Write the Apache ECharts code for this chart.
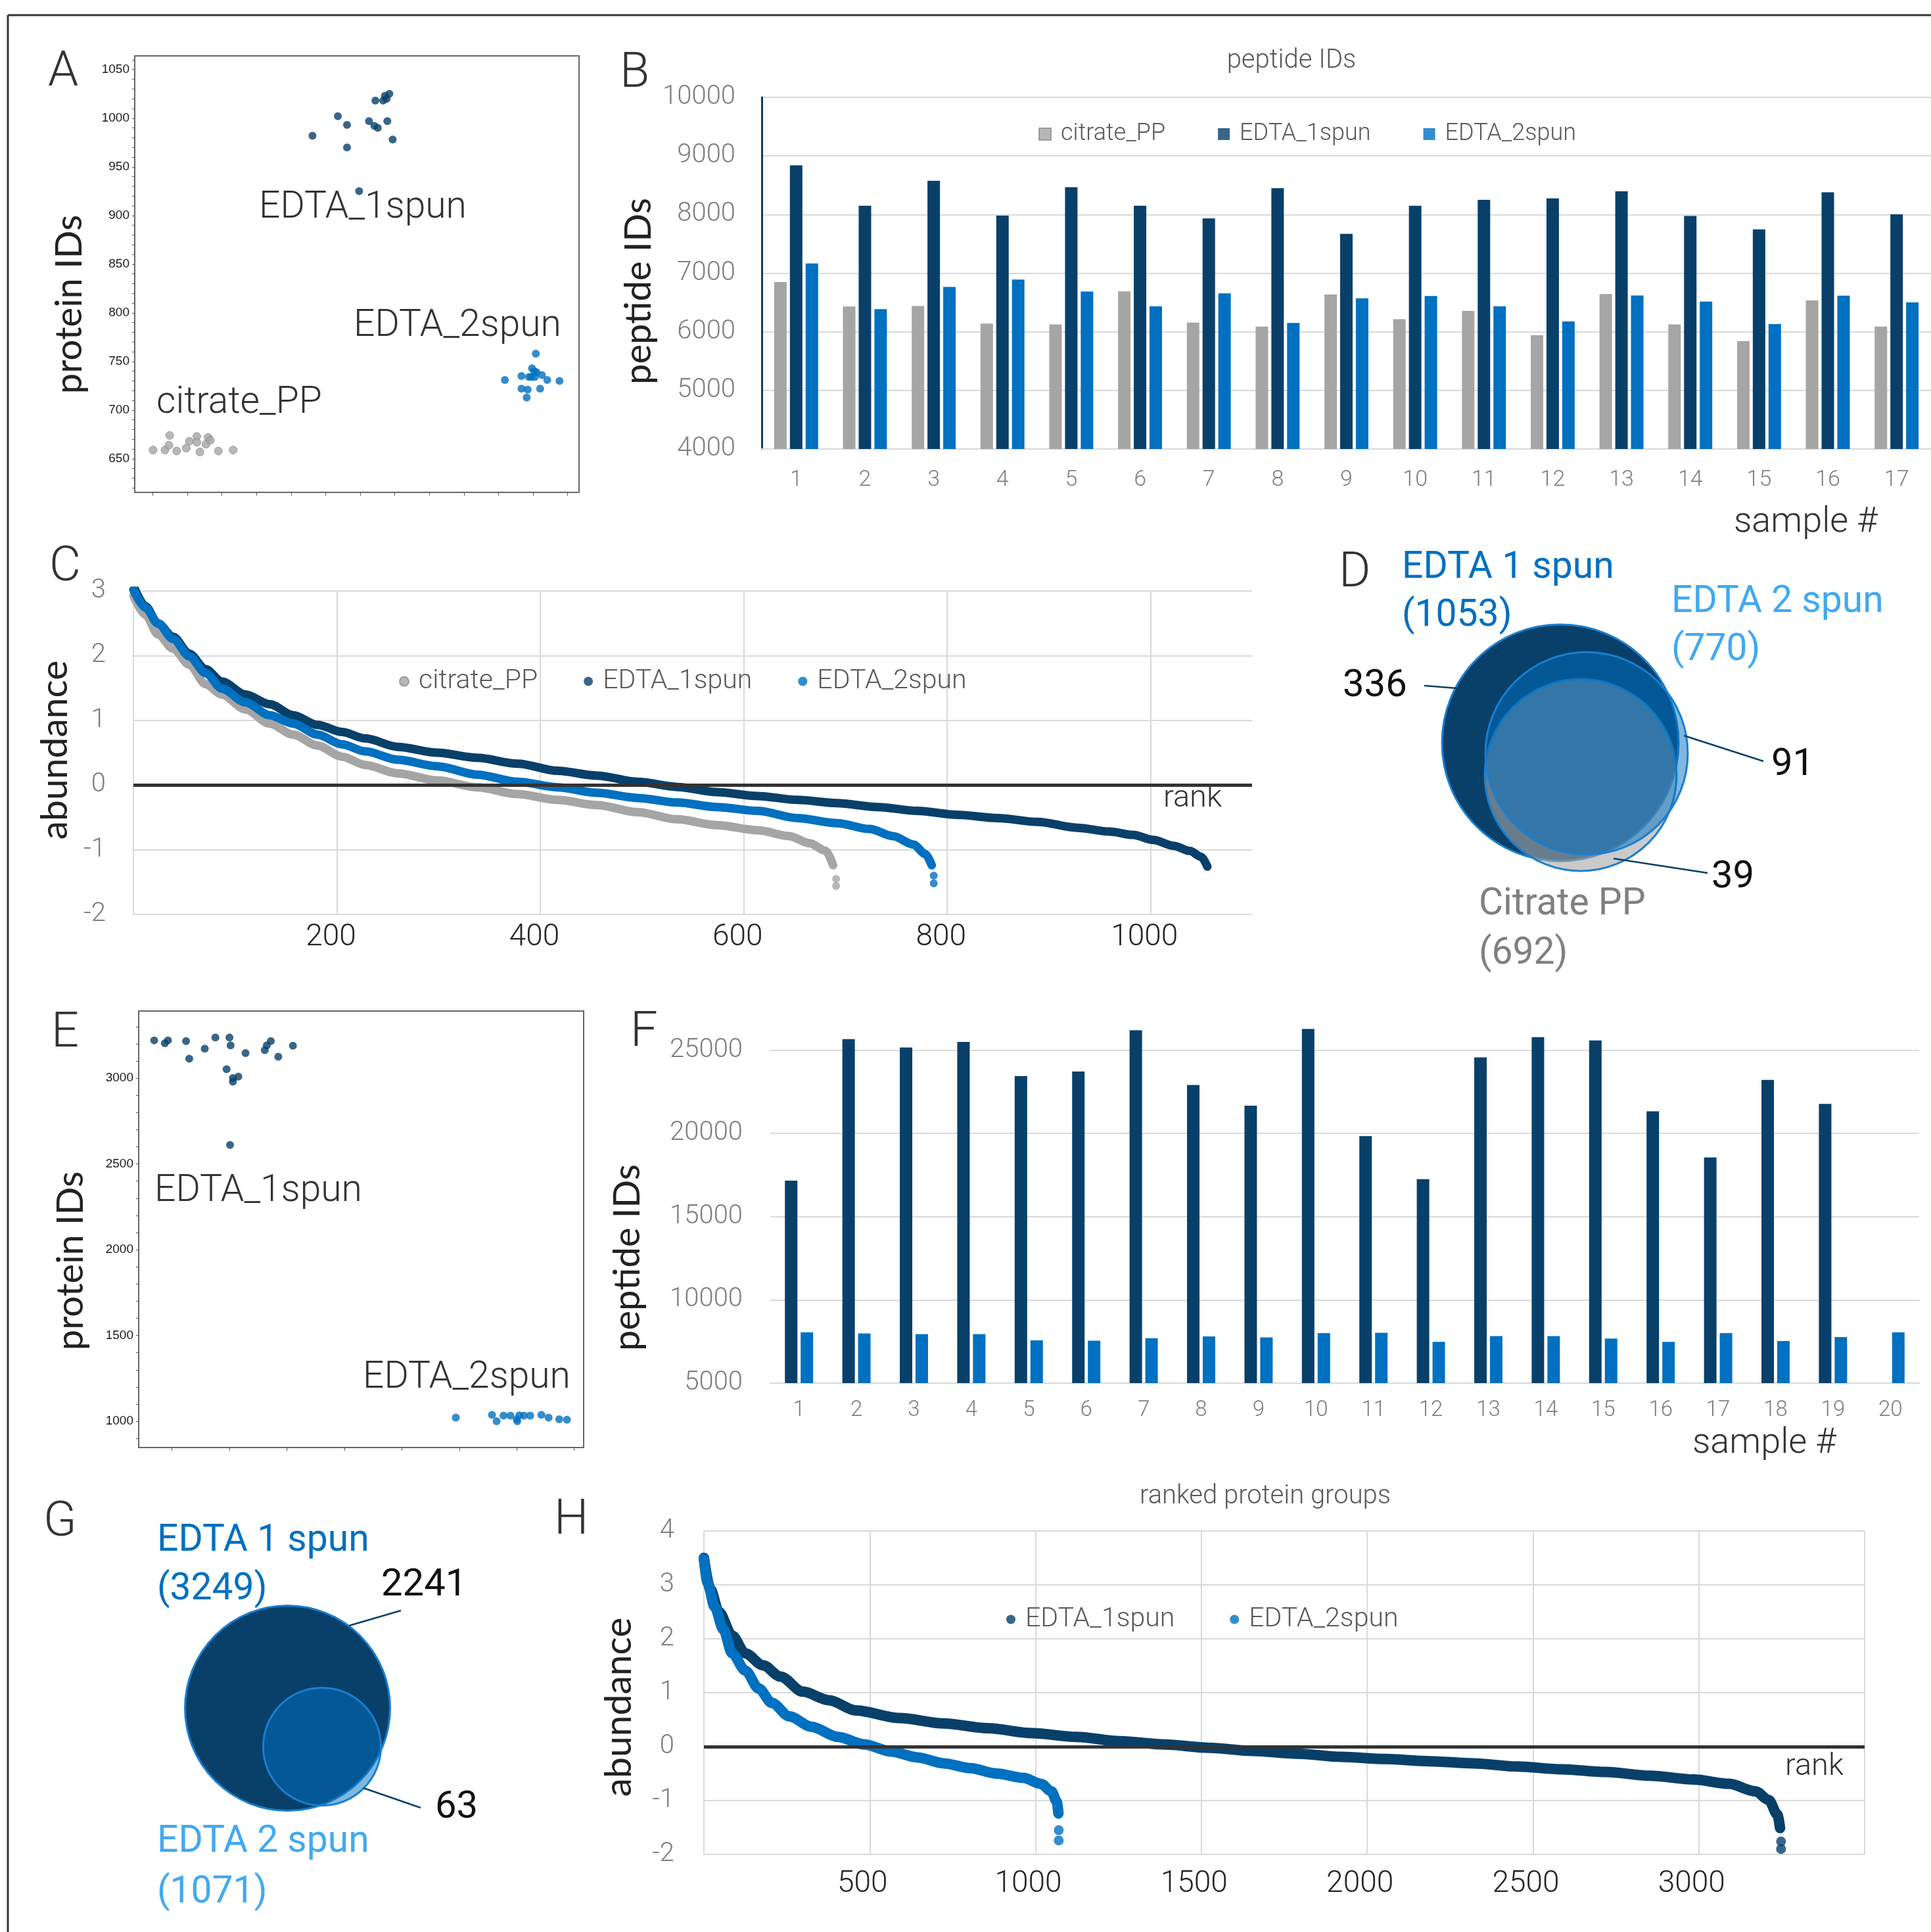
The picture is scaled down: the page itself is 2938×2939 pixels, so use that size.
<!DOCTYPE html>
<html>
<head>
<meta charset="utf-8">
<script src="https://cdn.jsdelivr.net/npm/echarts@6/dist/echarts.min.js"></script>
<style>
html,body{margin:0;padding:0;background:#fff;}
#main{width:2938px;height:2939px;}
</style>
</head>
<body>
<div id="main"></div>
<script>
// colours
var navy = '#08406a', blue = '#0070c0', grey = '#a5a5a5', skyBlue = '#42a9f0';
var gridGrey = '#d9d9d9', tickGrey = '#7f7f7f';

// ---- A: protein IDs, first cohort (jitter = offset from group centre) ----
var citrateA = [659, 674, 659, 664, 658, 661, 668, 673, 667, 657, 665, 672, 669, 658, 659];
var citrateJitA = [-0.198, -0.102, -0.129, -0.106, -0.061, -0.006, 0.012, 0.055, 0.055, 0.073, 0.108, 0.120, 0.133, 0.180, 0.265];
var edta1A = [982, 1002, 993, 970, 925, 997, 992, 990, 1018, 1018, 1023, 1020, 1025, 997, 978];
var edta1JitA = [-0.276, -0.129, -0.076, -0.076, -0.006, 0.051, 0.082, 0.102, 0.088, 0.133, 0.143, 0.153, 0.169, 0.157, 0.188];
var edta2A = [731, 735, 722, 713, 721, 734, 743, 734, 734, 740, 758, 739, 722, 736, 731, 730];
var edta2JitA = [-0.163, -0.067, -0.067, -0.037, -0.031, -0.024, -0.006, -0.010, 0.010, 0.006, 0.016, 0.020, 0.041, 0.051, 0.082, 0.153];
var yLabelsA = [650, 700, 750, 800, 850, 900, 950, 1000, 1050];

// ---- B: peptide IDs per sample ----
var samplesB = ['1','2','3','4','5','6','7','8','9','10','11','12','13','14','15','16','17'];
var citrateB = [6850, 6430, 6440, 6140, 6125, 6690, 6155, 6090, 6635, 6215, 6355, 5940, 6645, 6125, 5840, 6535, 6090];
var edta1B = [8840, 8150, 8575, 7980, 8465, 8150, 7935, 8450, 7670, 8150, 8250, 8275, 8395, 7975, 7745, 8380, 8005];
var edta2B = [7165, 6385, 6765, 6890, 6685, 6435, 6655, 6150, 6570, 6610, 6435, 6175, 6620, 6515, 6130, 6615, 6500];

// ---- C: ranked protein abundance ----
var rankC_cit = [0, 12, 24, 39, 55, 71, 87, 110, 134, 157, 181, 205, 228, 260, 299, 338, 378, 417, 456, 496, 535, 574, 614, 645, 665, 681, 688];
var abC_cit = [2.93, 2.63, 2.33, 2.11, 1.86, 1.56, 1.40, 1.17, 0.95, 0.78, 0.61, 0.44, 0.31, 0.18, 0.07, -0.035, -0.14, -0.23, -0.31, -0.42, -0.53, -0.62, -0.70, -0.79, -0.90, -1.02, -1.24];
var rankC_e1 = [1, 12, 24, 39, 55, 71, 87, 110, 134, 157, 181, 205, 228, 260, 299, 338, 378, 417, 456, 496, 535, 574, 614, 653, 692, 732, 771, 810, 850, 889, 928, 960, 983, 1003, 1023, 1039, 1050, 1056];
var abC_e1 = [3.04, 2.76, 2.50, 2.29, 2.03, 1.79, 1.60, 1.40, 1.25, 1.08, 0.93, 0.82, 0.72, 0.59, 0.50, 0.42, 0.33, 0.22, 0.145, 0.05, -0.03, -0.11, -0.17, -0.23, -0.28, -0.34, -0.40, -0.46, -0.51, -0.57, -0.66, -0.72, -0.77, -0.85, -0.94, -1.02, -1.11, -1.26];
var rankC_e2 = [0, 12, 24, 39, 55, 71, 87, 110, 134, 157, 181, 205, 228, 260, 299, 338, 378, 417, 456, 496, 535, 574, 614, 653, 692, 724, 747, 767, 779, 785];
var abC_e2 = [3.02, 2.74, 2.50, 2.26, 1.99, 1.73, 1.49, 1.28, 1.08, 0.95, 0.78, 0.63, 0.52, 0.39, 0.29, 0.16, 0.05, -0.035, -0.12, -0.20, -0.27, -0.34, -0.40, -0.51, -0.59, -0.68, -0.79, -0.92, -1.07, -1.24];
var tailC_cit = [[691, -1.45], [691, -1.56]];
var tailC_e2 = [[787, -1.40], [787, -1.52]];
var xLabelsC = [200, 400, 600, 800, 1000];

// ---- D: overlap, first cohort ----
var vennD = [1053, 770, 692];   // EDTA 1 spun, EDTA 2 spun, Citrate PP
var uniqueD = [336, 91, 39];

// ---- E: protein IDs, second cohort ----
var edta1E = [3220, 3203, 3220, 3216, 3113, 3172, 3237, 3237, 3191, 3052, 3000, 2979, 3009, 3146, 3163, 3191, 3216, 3125, 3189, 2610];
var edta1JitE = [-0.262, -0.225, -0.214, -0.151, -0.140, -0.086, -0.049, 0.000, 0.004, -0.010, 0.012, 0.012, 0.031, 0.056, 0.123, 0.130, 0.144, 0.170, 0.221, 0.002];
var edta2E = [1021, 1038, 1000, 1033, 1033, 1012, 1000, 1035, 1033, 1033, 1038, 1021, 1012, 1009];
var edta2JitE = [-0.212, -0.086, -0.070, -0.046, -0.022, 0.000, 0.002, 0.009, 0.025, 0.047, 0.086, 0.111, 0.148, 0.175];
var yLabelsE = [1000, 1500, 2000, 2500, 3000];

// ---- F: peptide IDs, second cohort ----
var samplesF = ['1','2','3','4','5','6','7','8','9','10','11','12','13','14','15','16','17','18','19','20'];
var edta1F = [17170, 25670, 25160, 25500, 23450, 23720, 26200, 22910, 21670, 26280, 19840, 17250, 24570, 25790, 25590, 21330, 18560, 23220, 21780, null];
var edta2F = [8050, 7980, 7945, 7945, 7570, 7550, 7695, 7800, 7750, 8000, 8020, 7480, 7820, 7820, 7675, 7480, 8000, 7530, 7765, 8050];
var yLabelsF = [5000, 10000, 15000, 20000, 25000];

// ---- G: overlap, second cohort ----
var vennG = [3249, 1071];   // EDTA 1 spun, EDTA 2 spun
var uniqueG = [2241, 63];

// ---- H: ranked protein groups, second cohort ----
var rankH_e1 = [0, 19, 45, 85, 125, 178, 231, 298, 378, 458, 590, 723, 857, 990, 1123, 1256, 1389, 1522, 1654, 1788, 1921, 2054, 2187, 2320, 2453, 2586, 2719, 2852, 2985, 3091, 3171, 3211, 3237, 3245];
var abH_e1 = [3.50, 2.93, 2.50, 2.06, 1.73, 1.51, 1.30, 1.02, 0.86, 0.67, 0.53, 0.43, 0.34, 0.25, 0.18, 0.10, 0.04, -0.02, -0.08, -0.13, -0.19, -0.23, -0.27, -0.31, -0.37, -0.42, -0.47, -0.54, -0.61, -0.69, -0.83, -0.99, -1.26, -1.51];
var rankH_e2 = [0, 11, 32, 59, 85, 125, 165, 205, 258, 324, 404, 484, 564, 644, 723, 803, 883, 963, 1016, 1048, 1064, 1069];
var abH_e2 = [3.48, 3.04, 2.60, 2.17, 1.73, 1.41, 1.08, 0.81, 0.56, 0.37, 0.18, 0.04, -0.09, -0.20, -0.31, -0.40, -0.50, -0.58, -0.69, -0.83, -1.02, -1.24];
var tailH_e1 = [[3248, -1.76], [3248, -1.90]];
var tailH_e2 = [[1070, -1.55], [1070, -1.74]];
var xLabelsH = [500, 1000, 1500, 2000, 2500, 3000];

function zip(xs, ys) {
    return xs.map(function (x, i) { return [x, ys[i]]; });
}
function jitter(center, offs, vals) {
    return vals.map(function (v, i) { return [center + offs[i], v]; });
}
function steps(a, b, s) {
    var out = [];
    for (var v = a; v <= b + 1e-9; v += s) out.push(Math.round(v * 1000) / 1000);
    return out;
}
// plain numbers, no thousands separator
function plain(v) { return String(v); }

function txt(x, y, s, size, color, o) {
    o = o || {};
    return {
        type: 'text', x: x, y: y, rotation: o.rot || 0, silent: true, z: 50,
        style: {
            text: s, fill: color, fontSize: size,
            fontFamily: o.family || 'Roboto', fontWeight: o.weight || 300,
            align: o.align || 'left', textAlign: o.align || 'left',
            verticalAlign: 'middle', textVerticalAlign: 'middle'
        }
    };
}
function seg(x1, y1, x2, y2, color, w) {
    return {type: 'line', silent: true, z: 50, shape: {x1: x1, y1: y1, x2: x2, y2: y2},
        style: {stroke: color, lineWidth: w}};
}

// strip-plot axes (A, E)
function stripX(idx, min, max) {
    return {type: 'value', gridIndex: idx, min: min, max: max,
        axisLine: {show: false}, splitLine: {show: false}, axisLabel: {show: false},
        axisTick: {show: true, length: 5, customValues: steps(0.8, max - 0.02, 0.2), lineStyle: {color: '#555'}}};
}
function stripY(idx, min, max, labels, tickStep) {
    return {type: 'value', gridIndex: idx, min: min, max: max,
        axisLine: {show: false}, splitLine: {show: false},
        axisTick: {show: true, length: 4, customValues: steps(Math.ceil(min / tickStep) * tickStep, max, tickStep), lineStyle: {color: '#555'}},
        axisLabel: {customValues: labels, formatter: plain, fontFamily: 'Liberation Sans', fontSize: 19, color: '#1a1a1a', margin: 8}};
}
function hiddenAxis(idx, max, inverse) {
    return {type: 'value', gridIndex: idx, min: 0, max: max, inverse: !!inverse, show: false,
        splitLine: {show: false}};
}

var kD = 180 / Math.sqrt(vennD[0]);
var kG = 156 / Math.sqrt(vennG[0]);

function vennCircle(name, idx, cx, cy, count, k, fill) {
    return {
        name: name, type: 'scatter', xAxisIndex: idx, yAxisIndex: idx, silent: true,
        data: [[cx, cy, count]],
        symbolSize: function (v) { return 2 * k * Math.sqrt(v[2]); },
        itemStyle: {color: fill, borderColor: '#1a7fd0', borderWidth: 3, opacity: 1}
    };
}

function curve(name, idx, data, color, width, mark) {
    var s = {
        name: name, type: 'line', xAxisIndex: idx, yAxisIndex: idx, data: data,
        showSymbol: false, smooth: 0.3, smoothMonotone: 'x',
        lineStyle: {color: color, width: width, cap: 'round', join: 'round'},
        itemStyle: {color: color}
    };
    if (mark) {
        s.markLine = {silent: true, symbol: 'none', label: {show: false},
            lineStyle: {color: '#333', width: 5, type: 'solid'}, data: [{yAxis: 0}]};
    }
    return s;
}
function tail(name, idx, data, color, size) {
    return {name: name, type: 'scatter', xAxisIndex: idx, yAxisIndex: idx, data: data,
        symbolSize: size, itemStyle: {color: color}};
}

var tickLbl = {color: tickGrey, fontSize: 40, fontFamily: 'Roboto', fontWeight: 300, formatter: plain};
var legendText = {color: '#595959', fontFamily: 'Roboto', fontWeight: 300, padding: [0, 0, 0, 10]};

var option = {
    animation: false,
    backgroundColor: '#fff',
    grid: [
        {left: 205, top: 85, width: 676, height: 664, show: true, borderColor: '#666', borderWidth: 2},   // A
        {left: 1159, top: 148, width: 1779, height: 535},   // B
        {left: 203, top: 899, width: 1702, height: 492},    // C
        {left: 2025, top: 825, width: 913, height: 675},    // D
        {left: 211, top: 1538, width: 677, height: 664, show: true, borderColor: '#666', borderWidth: 2}, // E
        {left: 1172, top: 1547, width: 1748, height: 557},  // F
        {left: 56, top: 2260, width: 760, height: 670},     // G
        {left: 1071, top: 2329, width: 1766, height: 492}   // H
    ],
    xAxis: [
        stripX(0, 0.696, 3.266),
        {type: 'category', gridIndex: 1, data: samplesB,
            axisLine: {show: true, lineStyle: {color: gridGrey, width: 2}}, axisTick: {show: false},
            axisLabel: {color: tickGrey, fontSize: 34, fontFamily: 'Roboto', fontWeight: 300, margin: 30}},
        {type: 'value', gridIndex: 2, min: 0, max: 1100, interval: 200,
            axisLine: {show: false},
            axisTick: {show: false, customValues: [0, 200, 400, 600, 800, 1000]},
            axisLabel: {customValues: xLabelsC, formatter: plain, color: '#262626', fontSize: 46, fontFamily: 'Roboto', fontWeight: 300, margin: 12, padding: [0, 18, 0, 0]},
            splitLine: {show: true, lineStyle: {color: gridGrey, width: 2}}},
        hiddenAxis(3, 913),
        stripX(4, 0.684, 2.233),
        {type: 'category', gridIndex: 5, data: samplesF,
            axisLine: {show: true, lineStyle: {color: gridGrey, width: 2}}, axisTick: {show: false},
            axisLabel: {color: tickGrey, fontSize: 33, fontFamily: 'Roboto', fontWeight: 300, margin: 25}},
        hiddenAxis(6, 760),
        {type: 'value', gridIndex: 7, min: 0, max: 3500, interval: 500,
            axisLine: {show: false}, axisTick: {show: false},
            axisLabel: {customValues: xLabelsH, formatter: plain, color: '#262626', fontSize: 46, fontFamily: 'Roboto', fontWeight: 300, margin: 22, padding: [0, 22, 0, 0]},
            splitLine: {show: true, lineStyle: {color: gridGrey, width: 2}}}
    ],
    yAxis: [
        stripY(0, 615.5, 1064, yLabelsA, 10),
        {type: 'value', gridIndex: 1, min: 4000, max: 10000, interval: 1000,
            axisLine: {show: true, lineStyle: {color: navy, width: 3}}, axisTick: {show: false},
            axisLabel: Object.assign({margin: 40}, tickLbl),
            splitLine: {lineStyle: {color: gridGrey, width: 2}}},
        {type: 'value', gridIndex: 2, min: -2, max: 3, interval: 1,
            axisLine: {show: false}, axisTick: {show: false},
            axisLabel: Object.assign({margin: 42}, tickLbl),
            splitLine: {lineStyle: {color: gridGrey, width: 2}}},
        hiddenAxis(3, 675, true),
        stripY(4, 847, 3391, yLabelsE, 100),
        {type: 'value', gridIndex: 5, min: 5000, max: 27000,
            axisLine: {show: false},
            axisTick: {show: false, customValues: yLabelsF},
            axisLabel: Object.assign({margin: 42, customValues: yLabelsF}, tickLbl),
            splitLine: {lineStyle: {color: gridGrey, width: 2}}},
        hiddenAxis(6, 670, true),
        {type: 'value', gridIndex: 7, min: -2, max: 4, interval: 1,
            axisLine: {show: false}, axisTick: {show: false},
            axisLabel: Object.assign({margin: 45}, tickLbl),
            splitLine: {lineStyle: {color: gridGrey, width: 2}}}
    ],
    legend: [
        {data: ['citrate_PP', 'EDTA_1spun', 'EDTA_2spun'], left: 1575, top: 181, icon: 'rect',
            itemWidth: 18, itemHeight: 18, itemGap: 80,
            textStyle: Object.assign({fontSize: 36}, legendText)},
        {data: ['citrate_PP', 'EDTA_1spun', 'EDTA_2spun'], left: 602, top: 1011, icon: 'circle',
            itemWidth: 14, itemHeight: 14, itemGap: 70,
            textStyle: Object.assign({fontSize: 41}, legendText)},
        {data: ['EDTA_1spun', 'EDTA_2spun'], left: 1526, top: 2438, icon: 'circle',
            itemWidth: 14, itemHeight: 14, itemGap: 84,
            textStyle: Object.assign({fontSize: 41}, legendText)}
    ],
    series: [
        // A
        {name: 'citrate_PP', type: 'scatter', xAxisIndex: 0, yAxisIndex: 0, symbolSize: 12,
            data: jitter(1, citrateJitA, citrateA), itemStyle: {color: grey, borderColor: '#8c8c8c', borderWidth: 1}},
        {name: 'EDTA_1spun', type: 'scatter', xAxisIndex: 0, yAxisIndex: 0, symbolSize: 12,
            data: jitter(2, edta1JitA, edta1A), itemStyle: {color: navy}},
        {name: 'EDTA_2spun', type: 'scatter', xAxisIndex: 0, yAxisIndex: 0, symbolSize: 12,
            data: jitter(3, edta2JitA, edta2A), itemStyle: {color: blue}},
        // B
        {name: 'citrate_PP', type: 'bar', xAxisIndex: 1, yAxisIndex: 1, data: citrateB,
            barWidth: 19, barGap: '26%', itemStyle: {color: grey}},
        {name: 'EDTA_1spun', type: 'bar', xAxisIndex: 1, yAxisIndex: 1, data: edta1B,
            barWidth: 19, barGap: '26%', itemStyle: {color: navy}},
        {name: 'EDTA_2spun', type: 'bar', xAxisIndex: 1, yAxisIndex: 1, data: edta2B,
            barWidth: 19, barGap: '26%', itemStyle: {color: blue}},
        // C
        curve('citrate_PP', 2, zip(rankC_cit, abC_cit), grey, 13),
        curve('EDTA_1spun', 2, zip(rankC_e1, abC_e1), navy, 13),
        curve('EDTA_2spun', 2, zip(rankC_e2, abC_e2), blue, 13, true),
        tail('citrate_PP', 2, tailC_cit, grey, 12),
        tail('EDTA_2spun', 2, tailC_e2, blue, 12),
        // D (draw order: EDTA 1, citrate, EDTA 2)
        vennCircle('D EDTA 1 spun', 3, 349, 305, vennD[0], kD, navy),
        vennCircle('D Citrate PP', 3, 380, 354, vennD[2], kD, 'rgba(166,166,166,0.6)'),
        vennCircle('D EDTA 2 spun', 3, 389, 321, vennD[1], kD, 'rgba(0,112,192,0.5)'),
        // E
        {name: 'EDTA_1spun', type: 'scatter', xAxisIndex: 4, yAxisIndex: 4, symbolSize: 12,
            data: jitter(1, edta1JitE, edta1E), itemStyle: {color: navy}},
        {name: 'EDTA_2spun', type: 'scatter', xAxisIndex: 4, yAxisIndex: 4, symbolSize: 12,
            data: jitter(2, edta2JitE, edta2E), itemStyle: {color: blue}},
        // F
        {name: 'EDTA_1spun', type: 'bar', xAxisIndex: 5, yAxisIndex: 5, data: edta1F,
            barWidth: 19, barGap: '26%', itemStyle: {color: navy}},
        {name: 'EDTA_2spun', type: 'bar', xAxisIndex: 5, yAxisIndex: 5, data: edta2F,
            barWidth: 19, barGap: '26%', itemStyle: {color: blue}},
        // G
        vennCircle('G EDTA 1 spun', 6, 381.5, 338.5, vennG[0], kG, navy),
        vennCircle('G EDTA 2 spun', 6, 434, 397, vennG[1], kG, 'rgba(0,112,192,0.5)'),
        // H
        curve('EDTA_1spun', 7, zip(rankH_e1, abH_e1), navy, 16),
        curve('EDTA_2spun', 7, zip(rankH_e2, abH_e2), blue, 16, true),
        tail('EDTA_1spun', 7, tailH_e1, navy, 15),
        tail('EDTA_2spun', 7, tailH_e2, blue, 15)
    ],
    graphic: {elements: [
        // frame
        seg(12, 23, 2938, 23, '#333', 3),
        seg(12, 23, 12, 2939, '#333', 3),
        // panel letters
        txt(73, 111, 'A', 74, '#333'),
        txt(943, 113, 'B', 74, '#333'),
        txt(75, 864, 'C', 74, '#333'),
        txt(2037, 873, 'D', 74, '#333'),
        txt(78, 1573, 'E', 74, '#333'),
        txt(959, 1572, 'F', 74, '#333'),
        txt(66, 2317, 'G', 74, '#333'),
        txt(843, 2314, 'H', 74, '#333'),
        // axis names
        txt(106, 463, 'protein IDs', 56, '#222', {rot: Math.PI / 2, align: 'center', family: 'Lato', weight: 400}),
        txt(972, 443, 'peptide IDs', 56, '#222', {rot: Math.PI / 2, align: 'center', family: 'Lato', weight: 400}),
        txt(84, 1141, 'abundance', 57, '#222', {rot: Math.PI / 2, align: 'center', family: 'Lato', weight: 400}),
        txt(108, 1918, 'protein IDs', 56, '#222', {rot: Math.PI / 2, align: 'center', family: 'Lato', weight: 400}),
        txt(955, 1913, 'peptide IDs', 56, '#222', {rot: Math.PI / 2, align: 'center', family: 'Lato', weight: 400}),
        txt(942, 2597, 'abundance', 57, '#222', {rot: Math.PI / 2, align: 'center', family: 'Lato', weight: 400}),
        // chart titles and axis captions
        txt(1965, 93, 'peptide IDs', 40, '#595959', {align: 'center'}),
        txt(1925, 2277, 'ranked protein groups', 40, '#595959', {align: 'center'}),
        txt(2638, 795, 'sample #', 54, '#333'),
        txt(2575, 2196, 'sample #', 54, '#333'),
        txt(1770, 1215, 'rank', 47, '#333'),
        txt(2716, 2688, 'rank', 47, '#333'),
        // strip-plot group labels
        txt(394, 317, 'EDTA_1spun', 57, '#333'),
        txt(538, 497, 'EDTA_2spun', 57, '#333'),
        txt(238, 614, 'citrate_PP', 57, '#333'),
        txt(235, 1813, 'EDTA_1spun', 57, '#333'),
        txt(552, 2097, 'EDTA_2spun', 57, '#333'),
        // D labels
        txt(2133, 865, 'EDTA 1 spun', 57, blue, {weight: 400}),
        txt(2133, 938, '(' + vennD[0] + ')', 57, blue, {weight: 400}),
        txt(2543, 917, 'EDTA 2 spun', 57, skyBlue, {weight: 400}),
        txt(2543, 990, '(' + vennD[1] + ')', 57, skyBlue, {weight: 400}),
        txt(2250, 1377, 'Citrate PP', 57, '#808080', {weight: 400}),
        txt(2250, 1452, '(' + vennD[2] + ')', 57, '#808080', {weight: 400}),
        txt(2043, 1044, String(uniqueD[0]), 58, '#111', {weight: 400}),
        txt(2695, 1164, String(uniqueD[1]), 58, '#111', {weight: 400}),
        txt(2604, 1335, String(uniqueD[2]), 58, '#111', {weight: 400}),
        seg(2167, 1043, 2217, 1047, navy, 2.5),
        seg(2562, 1119, 2683, 1158, navy, 2.5),
        seg(2455, 1306, 2598, 1328, navy, 2.5),
        // G labels
        txt(239, 2345, 'EDTA 1 spun', 57, blue, {weight: 400}),
        txt(239, 2419, '(' + vennG[0] + ')', 57, blue, {weight: 400}),
        txt(239, 2803, 'EDTA 2 spun', 57, skyBlue, {weight: 400}),
        txt(239, 2880, '(' + vennG[1] + ')', 57, skyBlue, {weight: 400}),
        txt(580, 2412, String(uniqueG[0]), 58, '#111', {weight: 400}),
        txt(662, 2750, String(uniqueG[1]), 58, '#111', {weight: 400}),
        seg(610, 2450, 531, 2473, navy, 2.5),
        seg(553, 2720, 640, 2750, navy, 2.5)
    ]}
};

var chart = echarts.init(document.getElementById('main'));
chart.setOption(option);
</script>
</body>
</html>
